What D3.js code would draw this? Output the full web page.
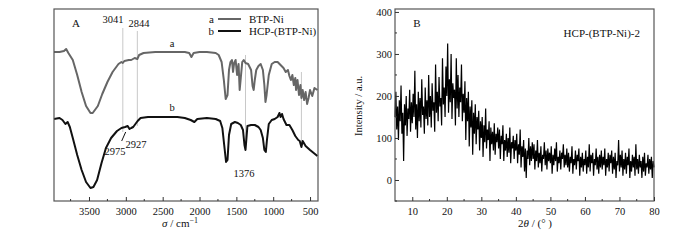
<!DOCTYPE html>
<html>
<head>
<meta charset="utf-8">
<script src="https://cdn.jsdelivr.net/npm/d3@7"></script>
<style>
  body { margin: 0; background: #fff; }
  svg text { font-family: "Liberation Serif", "Times New Roman", serif; fill: #111; }
</style>
</head>
<body>
<svg id="chart" width="700" height="240"></svg>
<script>
// ---- panel A : FTIR (wavenumber, relative transmittance)
var waveA = [3975,3900,3840,3810,3780,3720,3660,3600,3540,3480,3450,3380,3320,3250,3180,3100,3060,3041,3020,2960,2927,2880,2844,2820,2760,2600,2400,2200,2140,2110,2080,2000,1900,1780,1740,1700,1670,1645,1620,1600,1580,1560,1545,1530,1510,1490,1470,1455,1440,1420,1400,1376,1340,1300,1280,1265,1250,1230,1200,1170,1140,1120,1105,1090,1060,1020,980,940,900,860,830,800,780,760,740,720,700,690,670,650,630,617,600,580,560,540,520,500,470,440,400];
var btpNi = [149,149,150,152,148,141,126,109,95,88,88,95,107,119,129,137,139,138,140,141,141,143,142,146,148,149,149,149,148,144,148,149,149,148,146,139,121,102,106,131,139,141,129,138,141,126,137,111,123,139,141,138,137,131,115,111,121,131,135,137,131,116,99,106,126,137,139,139,136,133,129,131,125,121,126,116,123,111,121,106,116,103,111,101,109,97,103,111,105,113,111];

var waveB = [3975,3900,3860,3820,3790,3760,3720,3660,3600,3540,3480,3440,3390,3330,3270,3200,3120,3060,3010,2975,2950,2927,2900,2870,2840,2800,2700,2500,2300,2200,2120,2070,2030,1900,1780,1720,1690,1665,1640,1620,1600,1570,1520,1480,1440,1410,1390,1376,1365,1350,1300,1250,1200,1170,1140,1120,1100,1085,1060,1020,980,940,915,900,880,860,820,780,740,700,660,640,617,600,560,500,450,400];
var hcpNi = [82,83,81,77,79,74,63,46,31,19,13,14,21,38,53,63,70,73,74,75,72,73,74,77,80,83,84,84,84,83,81,79,82,83,82,80,73,56,39,41,66,77,79,78,76,71,56,51,61,75,76,76,74,71,63,51,49,61,77,81,82,84,88,84,87,82,76,76,71,65,61,60,54,60,55,51,48,45];

var axisTicksA = [3500,3000,2500,2000,1500,1000,500];
var peakLinesA = [3041, 2844, 1376, 617];

// ---- panel B : XRD, 2theta from 5 to 80 step 0.25
var thetaStart = 5, thetaStep = 0.25;
var xrd = [
  150,210,120,175,95,190,140,225,110,160,45,180,130,200,105,170,145,215,115,185,
  135,205,150,260,120,180,100,210,140,195,125,240,155,175,110,220,145,190,130,250,
  150,200,125,230,165,185,115,275,160,210,140,245,175,195,130,290,180,220,150,270,
  200,325,160,240,185,300,145,230,195,215,130,290,170,250,150,220,185,275,140,205,
  160,235,95,195,140,210,80,175,125,190,60,160,110,180,85,150,120,165,70,140,
  100,150,55,130,90,170,75,120,95,140,45,125,85,115,70,135,60,110,90,125,
  75,120,50,105,85,130,45,95,70,110,55,100,65,125,40,90,75,105,50,95,
  70,110,40,85,60,120,30,80,55,95,20,75,5,70,50,100,35,80,45,90,
  50,85,25,70,45,95,30,65,40,80,20,60,50,90,35,70,25,75,45,65,
  40,80,15,60,35,75,45,90,20,55,40,70,25,65,50,85,30,60,35,75,
  30,65,20,55,40,80,15,50,35,70,25,60,45,75,10,55,30,65,20,50,
  35,70,15,55,30,85,20,60,40,65,10,50,35,75,25,55,15,60,30,70,
  25,55,35,75,10,50,30,65,20,60,40,70,15,55,25,65,5,45,35,95,
  20,60,30,70,10,50,25,65,15,55,35,75,5,45,20,60,30,55,10,85,
  25,50,15,60,30,45,5,55,20,65,10,40,30,60,15,50,25,55,5,45,
  30
];
var xTicksB = [10,20,30,40,50,60,70,80];
var yTicksB = [0,100,200,300,400];

var svg = d3.select('#chart');

// ================= panel A
var ax = {l: 54, r: 318, t: 9, b: 201};
var xA = d3.scaleLinear().domain([3975, 392]).range([ax.l, ax.r]);
var yA = d3.scaleLinear().domain([0, 192]).range([ax.b, ax.t]);

var gA = svg.append('g');

// faint guide lines at marked peaks
var guideY = {3041: [28, 132], 2844: [31, 126], 1376: [55, 146], 617: [72, 144]};
peakLinesA.forEach(function (w) {
  gA.append('line')
    .attr('x1', xA(w)).attr('x2', xA(w))
    .attr('y1', guideY[w][0]).attr('y2', guideY[w][1])
    .attr('stroke', '#c8c8c8').attr('stroke-width', 1);
});

var lineA = d3.line().x(function (d) { return xA(d[0]); }).y(function (d) { return yA(d[1]); });

gA.append('path')
  .datum(d3.zip(waveA, btpNi))
  .attr('d', lineA)
  .attr('fill', 'none').attr('stroke', '#666').attr('stroke-width', 2).attr('stroke-linejoin', 'round');

gA.append('path')
  .datum(d3.zip(waveB, hcpNi))
  .attr('d', lineA)
  .attr('fill', 'none').attr('stroke', '#111').attr('stroke-width', 2).attr('stroke-linejoin', 'round');

// frame
gA.append('rect')
  .attr('x', ax.l).attr('y', ax.t).attr('width', ax.r - ax.l).attr('height', ax.b - ax.t)
  .attr('fill', 'none').attr('stroke', '#555').attr('stroke-width', 1.2);

// bottom axis, ticks inward
var minorA = d3.range(3750, 392, -250).filter(function (v) { return axisTicksA.indexOf(v) < 0; });
var axA = gA.append('g').attr('transform', 'translate(0,' + ax.b + ')')
  .call(d3.axisBottom(xA).tickValues(axisTicksA).tickSize(-4).tickPadding(7).tickFormat(d3.format('d')));
axA.select('.domain').remove();
axA.selectAll('text').attr('font-size', 10.5).attr('font-family', 'Liberation Serif');
axA.selectAll('line').attr('stroke', '#333');
gA.selectAll('.minA').data(minorA).enter().append('line')
  .attr('x1', xA).attr('x2', xA).attr('y1', ax.b).attr('y2', ax.b - 2)
  .attr('stroke', '#333');

// labels
gA.append('text').attr('x', 76).attr('y', 27).attr('font-size', 11).attr('text-anchor', 'middle').text('A');
gA.append('text').attr('x', 113).attr('y', 23).attr('font-size', 10.5).attr('text-anchor', 'middle').text('3041');
gA.append('text').attr('x', 139).attr('y', 27).attr('font-size', 10.5).attr('text-anchor', 'middle').text('2844');
gA.append('text').attr('x', 172).attr('y', 47).attr('font-size', 10.5).attr('text-anchor', 'middle').text('a');
gA.append('text').attr('x', 172).attr('y', 111).attr('font-size', 10.5).attr('text-anchor', 'middle').text('b');
gA.append('text').attr('x', 115).attr('y', 155).attr('font-size', 10.5).attr('text-anchor', 'middle').text('2975');
gA.append('text').attr('x', 136).attr('y', 148).attr('font-size', 10.5).attr('text-anchor', 'middle').text('2927');
gA.append('text').attr('x', 244).attr('y', 177).attr('font-size', 10.5).attr('text-anchor', 'middle').text('1376');
gA.append('line')
  .attr('x1', xA(2975) - 6).attr('y1', 141).attr('x2', xA(2975) - 2).attr('y2', 132)
  .attr('stroke', '#111').attr('stroke-width', 1);

// legend
var legend = [['a', 'BTP-Ni', '#666'], ['b', 'HCP-(BTP-Ni)', '#111']];
legend.forEach(function (d, i) {
  var y = 19 + i * 12;
  gA.append('text').attr('x', 214).attr('y', y + 3.5).attr('font-size', 11).attr('text-anchor', 'end').text(d[0]);
  gA.append('line').attr('x1', 218).attr('x2', 241).attr('y1', y).attr('y2', y)
    .attr('stroke', d[2]).attr('stroke-width', 2);
  gA.append('text').attr('x', 249).attr('y', y + 3.5).attr('font-size', 11).text(d[1]);
});

// x title
var tA = gA.append('text').attr('x', 180).attr('y', 227).attr('font-size', 11).attr('text-anchor', 'middle');
tA.append('tspan').attr('font-style', 'italic').text('σ');
tA.append('tspan').text(' / cm');
tA.append('tspan').attr('dy', -4).attr('font-size', 8).text('−1');

// ================= panel B
var bx = {l: 395, r: 654, t: 9, b: 201};
var xB = d3.scaleLinear().domain([5, 80]).range([bx.l, bx.r]);
var yB = d3.scaleLinear().domain([-50, 407]).range([bx.b, bx.t]);
var gB = svg.append('g');

gB.append('path')
  .datum(xrd)
  .attr('d', d3.line().x(function (d, i) { return xB(thetaStart + i * thetaStep); }).y(function (d) { return yB(d); }))
  .attr('fill', 'none').attr('stroke', '#000').attr('stroke-width', 1.2);

gB.append('rect')
  .attr('x', bx.l).attr('y', bx.t).attr('width', bx.r - bx.l).attr('height', bx.b - bx.t)
  .attr('fill', 'none').attr('stroke', '#555').attr('stroke-width', 1.2);

var axBx = gB.append('g').attr('transform', 'translate(0,' + bx.b + ')')
  .call(d3.axisBottom(xB).tickValues(xTicksB).tickSize(-4).tickPadding(7));
axBx.select('.domain').remove();
axBx.selectAll('text').attr('font-size', 10.5).attr('font-family', 'Liberation Serif');
axBx.selectAll('line').attr('stroke', '#333');
gB.selectAll('.minBx').data(d3.range(15, 80, 10)).enter().append('line')
  .attr('x1', xB).attr('x2', xB).attr('y1', bx.b).attr('y2', bx.b - 2).attr('stroke', '#333');

var axBy = gB.append('g').attr('transform', 'translate(' + bx.l + ',0)')
  .call(d3.axisLeft(yB).tickValues(yTicksB).tickSize(-4).tickPadding(3));
axBy.select('.domain').remove();
axBy.selectAll('text').attr('font-size', 10.5).attr('font-family', 'Liberation Serif');
axBy.selectAll('line').attr('stroke', '#333');
gB.selectAll('.minBy').data(d3.range(-50, 400, 100)).enter().append('line')
  .attr('x1', bx.l).attr('x2', bx.l + 2).attr('y1', yB).attr('y2', yB).attr('stroke', '#333');

gB.append('text').attr('x', 417).attr('y', 27).attr('font-size', 11).attr('text-anchor', 'middle').text('B');
gB.append('text').attr('x', 640).attr('y', 37).attr('font-size', 11).attr('text-anchor', 'end').text('HCP-(BTP-Ni)-2');

gB.append('text').attr('transform', 'translate(362,106) rotate(-90)')
  .attr('font-size', 10.5).attr('text-anchor', 'middle').text('Intensity / a.u.');

var tB = gB.append('text').attr('x', 535).attr('y', 227).attr('font-size', 11).attr('text-anchor', 'middle');
tB.append('tspan').text('2');
tB.append('tspan').attr('font-style', 'italic').text('θ');
tB.append('tspan').text(' / (° )');
</script>
</body>
</html>
